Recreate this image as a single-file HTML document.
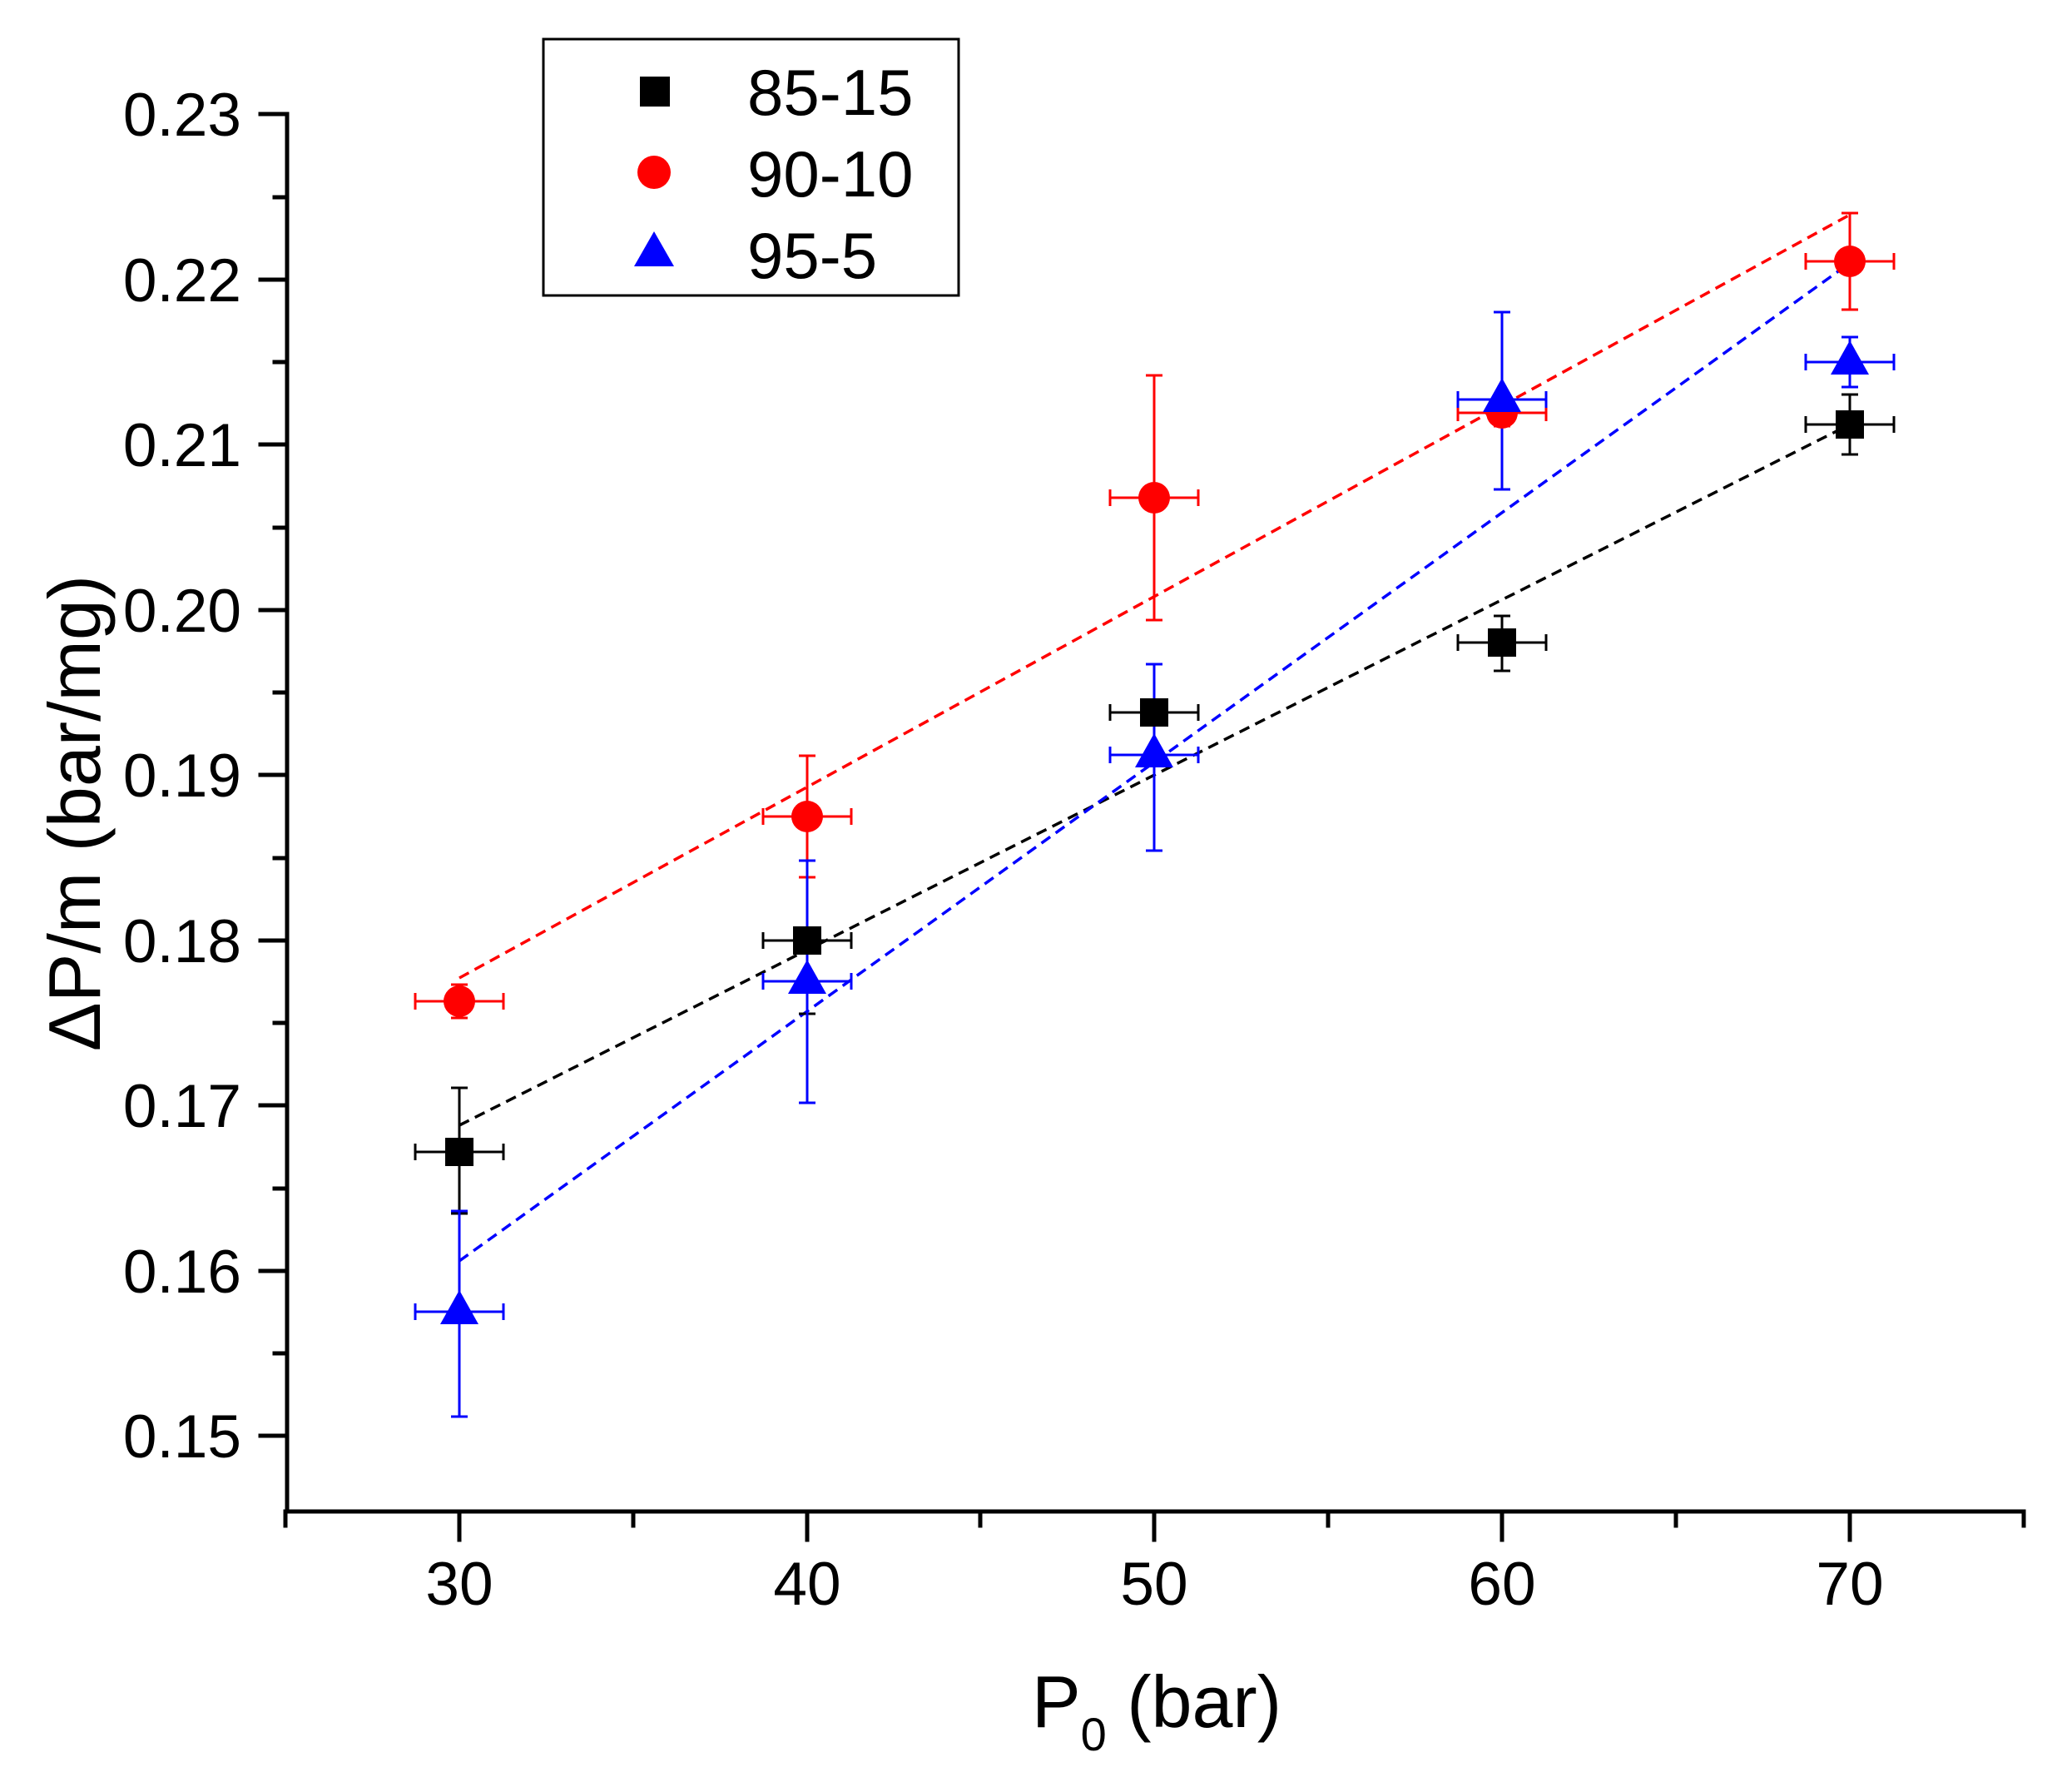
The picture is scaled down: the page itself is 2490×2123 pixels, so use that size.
<!DOCTYPE html>
<html><head><meta charset="utf-8"><style>
html,body{margin:0;padding:0;background:#fff;}
svg{display:block;}
text{font-family:"Liberation Sans",Arial,sans-serif;fill:#000;}
</style></head><body>
<svg width="2490" height="2123" viewBox="0 0 2490 2123" xmlns="http://www.w3.org/2000/svg">
<!-- axes -->
<g stroke="#000" stroke-width="5" fill="none" stroke-linecap="square">
<line x1="345" y1="137" x2="345" y2="1816"/>
<line x1="343" y1="1816" x2="2432" y2="1816"/>
<line x1="313" y1="1725" x2="345" y2="1725"/><line x1="313" y1="1527" x2="345" y2="1527"/>
<line x1="313" y1="1328" x2="345" y2="1328"/><line x1="313" y1="1130" x2="345" y2="1130"/>
<line x1="313" y1="931" x2="345" y2="931"/><line x1="313" y1="733" x2="345" y2="733"/>
<line x1="313" y1="534" x2="345" y2="534"/><line x1="313" y1="336" x2="345" y2="336"/>
<line x1="313" y1="137" x2="345" y2="137"/>
<line x1="330" y1="1626" x2="345" y2="1626"/><line x1="330" y1="1428" x2="345" y2="1428"/>
<line x1="330" y1="1229" x2="345" y2="1229"/><line x1="330" y1="1031" x2="345" y2="1031"/>
<line x1="330" y1="832" x2="345" y2="832"/><line x1="330" y1="634" x2="345" y2="634"/>
<line x1="330" y1="435" x2="345" y2="435"/><line x1="330" y1="237" x2="345" y2="237"/>
<line x1="552" y1="1816" x2="552" y2="1850"/><line x1="970" y1="1816" x2="970" y2="1850"/>
<line x1="1387" y1="1816" x2="1387" y2="1850"/><line x1="1805" y1="1816" x2="1805" y2="1850"/>
<line x1="2223" y1="1816" x2="2223" y2="1850"/>
<line x1="343" y1="1816" x2="343" y2="1833"/><line x1="761" y1="1816" x2="761" y2="1833"/>
<line x1="1178" y1="1816" x2="1178" y2="1833"/><line x1="1596" y1="1816" x2="1596" y2="1833"/>
<line x1="2014" y1="1816" x2="2014" y2="1833"/><line x1="2432" y1="1816" x2="2432" y2="1833"/>
</g>
<g font-size="73" text-anchor="end">
<text x="290" y="1751">0.15</text><text x="290" y="1553">0.16</text><text x="290" y="1354">0.17</text>
<text x="290" y="1156">0.18</text><text x="290" y="957">0.19</text><text x="290" y="759">0.20</text>
<text x="290" y="560">0.21</text><text x="290" y="362">0.22</text><text x="290" y="163">0.23</text>
</g>
<g font-size="73" text-anchor="middle">
<text x="552" y="1928">30</text><text x="970" y="1928">40</text><text x="1387" y="1928">50</text>
<text x="1805" y="1928">60</text><text x="2223" y="1928">70</text>
</g>
<text x="1390" y="2075" font-size="88" text-anchor="middle">P<tspan font-size="56" dy="28">0</tspan><tspan dy="-28"> (bar)</tspan></text>
<text transform="translate(120,977) rotate(-90)" font-size="88" text-anchor="middle">ΔP/m (bar/mg)</text>

<g stroke-width="3.5" stroke-dasharray="13,8" fill="none">
<line x1="552" y1="1352" x2="2223" y2="510" stroke="#000"/>
<line x1="552" y1="1175" x2="2223" y2="258" stroke="#f00"/>
<line x1="552" y1="1515" x2="2223" y2="316" stroke="#00f"/>
</g>

<g stroke="#000" stroke-width="3" fill="none">
<path d="M552 1307V1458M542 1307H562M542 1458H562M499 1384H605M499 1374V1394M605 1374V1394"/>
<path d="M970 1034V1218M960 1034H980M960 1218H980M917 1130H1023M917 1120V1140M1023 1120V1140"/>
<path d="M1387 798V911M1377 798H1397M1377 911H1397M1334 856H1440M1334 846V866M1440 846V866"/>
<path d="M1805 740V806M1795 740H1815M1795 806H1815M1752 772H1858M1752 762V782M1858 762V782"/>
<path d="M2223 474V546M2213 474H2233M2213 546H2233M2170 510H2276M2170 500V520M2276 500V520"/>
</g>
<g stroke="#f00" stroke-width="3" fill="none">
<path d="M552 1183V1223M542 1183H562M542 1223H562M499 1203H605M499 1193V1213M605 1193V1213"/>
<path d="M970 908V1054M960 908H980M960 1054H980M917 981H1023M917 971V991M1023 971V991"/>
<path d="M1387 451V745M1377 451H1397M1377 745H1397M1334 598H1440M1334 588V608M1440 588V608"/>
<path d="M1805 480V512M1795 480H1815M1795 512H1815M1752 496H1858M1752 486V506M1858 486V506"/>
<path d="M2223 256V372M2213 256H2233M2213 372H2233M2170 314H2276M2170 304V324M2276 304V324"/>
</g>
<g stroke="#00f" stroke-width="3" fill="none">
<path d="M552 1455V1702M542 1455H562M542 1702H562M499 1576H605M499 1566V1586M605 1566V1586"/>
<path d="M970 1034V1325M960 1034H980M960 1325H980M917 1179H1023M917 1169V1189M1023 1169V1189"/>
<path d="M1387 798V1022M1377 798H1397M1377 1022H1397M1334 907H1440M1334 897V917M1440 897V917"/>
<path d="M1805 375V588M1795 375H1815M1795 588H1815M1752 480H1858M1752 470V490M1858 470V490"/>
<path d="M2223 405V465M2213 405H2233M2213 465H2233M2170 435H2276M2170 425V445M2276 425V445"/>
</g>

<g fill="#000">
<rect x="535" y="1367" width="34" height="34"/><rect x="953" y="1113" width="34" height="34"/>
<rect x="1370" y="839" width="34" height="34"/><rect x="1788" y="755" width="34" height="34"/>
<rect x="2206" y="493" width="34" height="34"/>
</g>
<g fill="#f00">
<circle cx="552" cy="1203" r="19"/><circle cx="970" cy="981" r="19"/><circle cx="1387" cy="598" r="19"/>
<circle cx="1805" cy="496" r="19"/><circle cx="2223" cy="314" r="19"/>
</g>
<g fill="#00f">
<path d="M552 1550L575 1591L529 1591Z"/><path d="M970 1153L993 1194L947 1194Z"/>
<path d="M1387 881L1410 922L1364 922Z"/><path d="M1805 454L1828 495L1782 495Z"/>
<path d="M2223 409L2246 450L2200 450Z"/>
</g>

<rect x="653" y="47" width="499" height="308" fill="#fff" stroke="#000" stroke-width="3"/>
<rect x="769" y="92" width="36" height="36" fill="#000"/>
<ellipse cx="786" cy="207" rx="20" ry="20" fill="#f00"/>
<path d="M786 278L810 320L762 320Z" fill="#00f"/>
<g font-size="78">
<text x="898" y="138">85-15</text>
<text x="898" y="236">90-10</text>
<text x="898" y="334">95-5</text>
</g>
</svg>
</body></html>
